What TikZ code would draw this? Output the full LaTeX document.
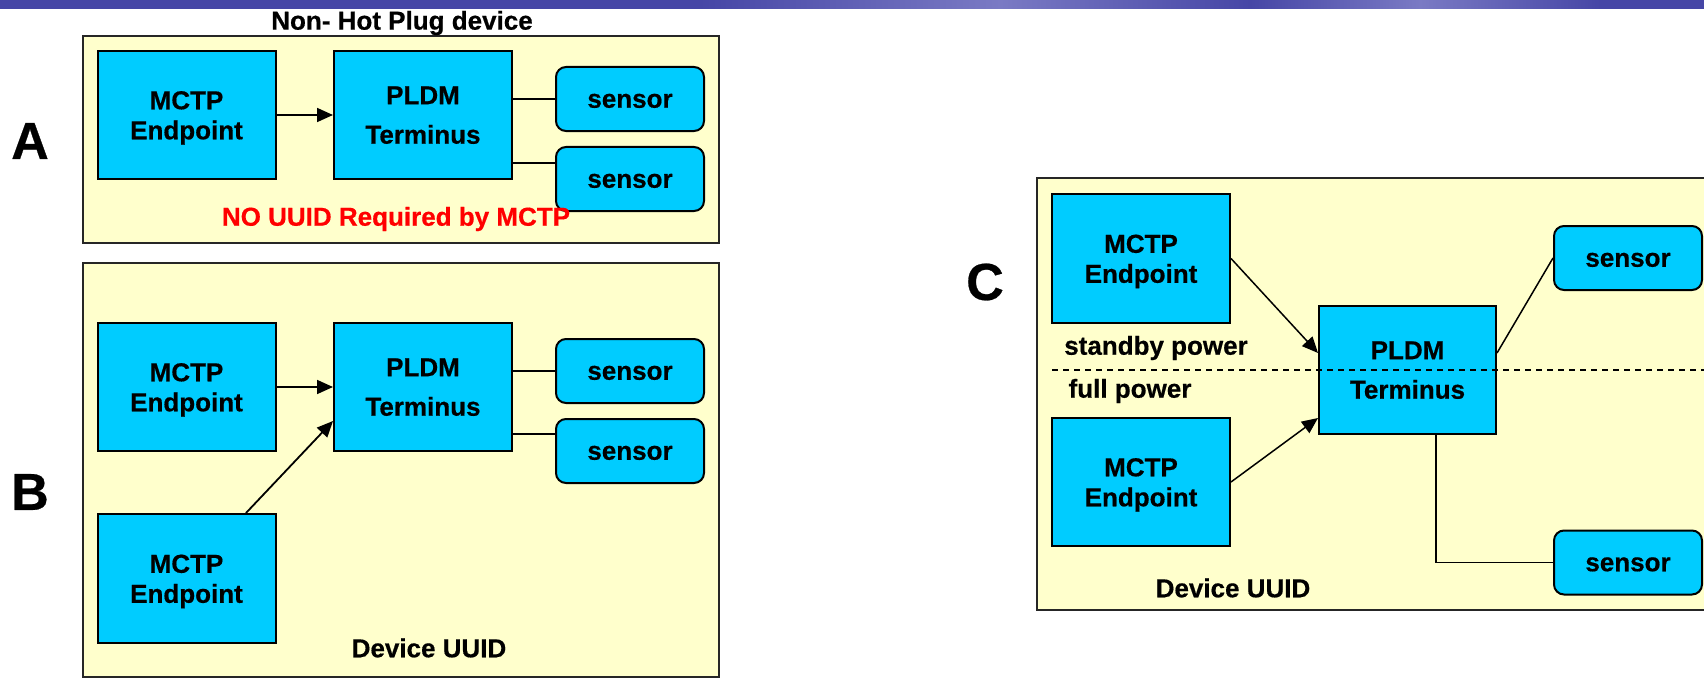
\documentclass[tikz,border=0pt]{standalone}
\usepackage{fontspec}
\setmainfont{Liberation Sans}[BoldFeatures={FakeBold=0.5}]
\usetikzlibrary{arrows.meta,calc}
\definecolor{bgyellow}{HTML}{FFFFCC}
\definecolor{boxcyan}{HTML}{00CCFF}
\definecolor{bandblue}{HTML}{4646A6}
\definecolor{bandlight}{HTML}{7A7AC4}
\definecolor{nouuidred}{HTML}{FF0000}
\tikzset{
 every node/.style={font=\bfseries\fontsize{26bp}{32bp}\selectfont, inner sep=0pt},
 frame/.style={draw=black!85, line width=2bp, fill=bgyellow, rectangle},
 blk/.style={draw=black, line width=2bp, fill=boxcyan, rectangle, minimum width=178bp, minimum height=128bp, align=center},
 mctp/.style={blk, font=\bfseries\fontsize{26bp}{30bp}\selectfont, text height=54.1bp, text depth=5.5bp},
 pldm/.style={blk, text height=57.4bp, text depth=0bp},
 sens/.style={draw=black, line width=2bp, fill=boxcyan, rounded corners=10bp, minimum width=148bp, minimum height=64bp, text height=17.8bp, text depth=0.3bp},
 conn/.style={line width=1.8bp, draw=black},
 arr/.style={conn, -{Triangle[length=16bp,width=14bp]}},
 biglabel/.style={font=\bfseries\fontsize{52bp}{52bp}\selectfont},
}
\begin{document}
\begin{tikzpicture}[x=1bp,y=-1bp]
\useasboundingbox (0,0) rectangle (1704,678);
\begin{scope}
\clip (0,0) rectangle (1704,678);
% header band
\fill[bandblue] (0,0) rectangle (1704,9);
\shade[left color=bandblue, right color=bandlight] (700,0) rectangle (1000,9);
\shade[left color=bandlight, right color=bandblue] (1000,0) rectangle (1250,9);
\shade[left color=bandblue, right color=bandlight] (1250,0) rectangle (1420,9);
\shade[left color=bandlight, right color=bandblue] (1420,0) rectangle (1600,9);

% ---------- A ----------
\node[frame, minimum width=636bp, minimum height=207bp] (frameA) at (401,139.5) {};
\node (titleA) at (402,23) {Non- Hot Plug device};
\node[mctp] (mctpA) at (186.5,115) {MCTP\\Endpoint};
\node[pldm] (pldmA) at (423,115) {PLDM\\[7.5bp]Terminus};
\node[sens] (sA1) at (630,99) {sensor};
\node[sens] (sA2) at (630,179) {sensor};
\draw[arr] (mctpA) -- (pldmA);
\draw[conn] ($(pldmA.east)+(0,-16)$) -- (sA1.west);
\draw[conn] ($(pldmA.east)+(0,48)$) -- ($(sA2.west)+(0,-16)$);
\node[text=nouuidred] (noUUID) at (396,219) {NO UUID Required by MCTP};
\node[biglabel] (labA) at (30,141) {A};

% ---------- B ----------
\node[frame, minimum width=636bp, minimum height=414bp] (frameB) at (401,470) {};
\node[mctp] (mctpB1) at (186.5,387) {MCTP\\Endpoint};
\node[pldm] (pldmB) at (423,387) {PLDM\\[7.5bp]Terminus};
\node[sens] (sB1) at (630,371) {sensor};
\node[sens] (sB2) at (630,451) {sensor};
\node[mctp, minimum height=129bp] (mctpB2) at (186.5,578.5) {MCTP\\Endpoint};
\node (uuidB) at (429,648) {Device UUID};
\draw[arr] (mctpB1) -- (pldmB);
\draw[arr] ($(mctpB2.north)+(59.5,0)$) -- ($(pldmB.west)+(0,34)$);
\draw[conn] ($(pldmB.east)+(0,-16)$) -- (sB1.west);
\draw[conn] ($(pldmB.east)+(0,47)$) -- ($(sB2.west)+(0,-17)$);
\node[biglabel] (labB) at (30,492) {B};

% ---------- C ----------
\node[frame, minimum width=683bp, minimum height=432bp] (frameC) at (1378.5,394) {};
\node[mctp, minimum height=129bp] (mctpC1) at (1141,258.5) {MCTP\\Endpoint};
\node[mctp] (mctpC2) at (1141,482) {MCTP\\Endpoint};
\node[pldm, minimum width=177bp] (pldmC) at (1407.5,370) {PLDM\\[7.5bp]Terminus};
\node[sens] (sC1) at (1628,258) {sensor};
\node[sens] (sC2) at (1628,562.5) {sensor};
\node (standby) at (1156,348) {standby power};
\node (fullp) at (1130,391) {full power};
\node (uuidC) at (1233,588) {Device UUID};
\draw[arr, line width=1.5bp] (mctpC1.east) -- ($(pldmC.west)+(0,-17)$);
\draw[arr, line width=1.5bp] (mctpC2.east) -- ($(pldmC.west)+(0,48)$);
\draw[conn, line width=1.5bp] ($(pldmC.east)+(0,-17)$) -- (sC1.west);
\draw[conn, line width=1.5bp] ($(pldmC.south)+(28.5,0)$) |- (sC2.west);
\coordinate (dashL) at (1052,370);
\coordinate (dashR) at (1710,370);
\draw[line width=1.5bp, dash pattern=on 6bp off 5bp] (dashL) -- (dashR);
\node[biglabel] (labC) at (985,282) {C};
\end{scope}
\end{tikzpicture}
\end{document}
